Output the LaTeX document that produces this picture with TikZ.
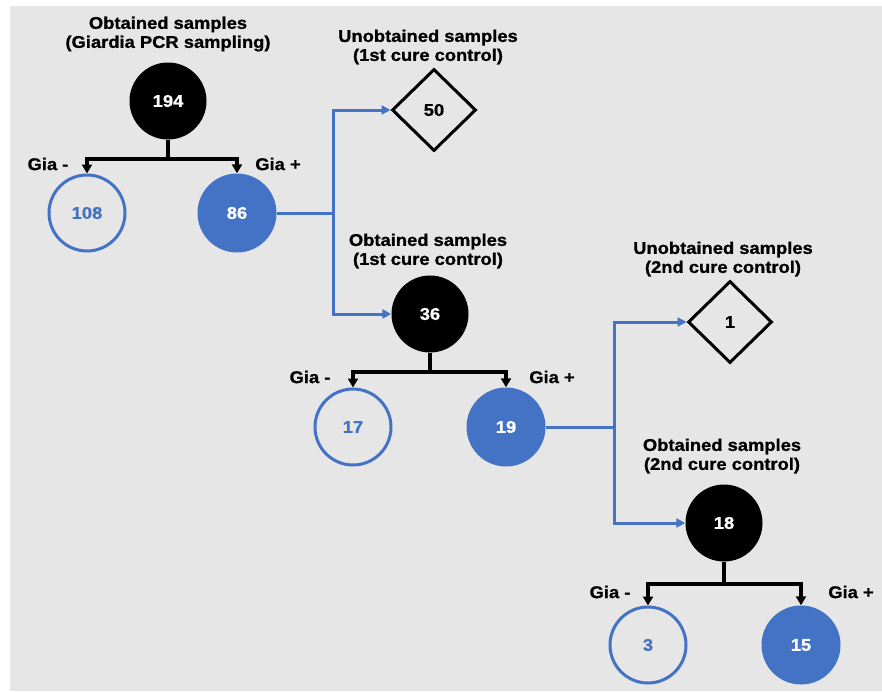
\documentclass[tikz,border=0pt]{standalone}
\usepackage{fontspec}
\newfontfamily\labfont{Liberation Sans}[FakeStretch=1.08,FakeBold=0.9]
\usetikzlibrary{arrows.meta,shapes.geometric}
\definecolor{bggray}{HTML}{E7E6E6}
\definecolor{giablue}{HTML}{4472C4}
\begin{document}
\begin{tikzpicture}[x=1pt,y=-1pt,
    every node/.style={font=\labfont\bfseries\fontsize{17}{19}\selectfont},
    tot/.style={circle,fill=black,text=white,minimum size=77pt,inner sep=0pt},
    gianeg/.style={circle,draw=giablue,line width=3pt,text=giablue,minimum size=76pt,inner sep=0pt},
    giapos/.style={circle,fill=giablue,text=white,minimum size=79pt,inner sep=0pt},
    lost/.style={diamond,draw=black,line width=3pt,minimum width=84pt,minimum height=82pt,inner sep=0pt},
    title/.style={align=center,inner sep=0pt},
    split/.style={line width=3.2pt,-{Triangle[length=9pt,width=10pt]}},
    flow/.style={draw=giablue,line width=3pt,-{Triangle[length=9pt,width=9pt]}}]
    \useasboundingbox (0,0) rectangle (882,691);
    \fill[bggray] (10,6) rectangle (882,691);
    % first sampling
    \node[title] (t194) at (168,34) {Obtained samples\\(Giardia PCR sampling)};
    \node[tot] (n194) at (168,101) {194};
    \node[gianeg] (n108) at (87,213) {108};
    \node[giapos] (n86) at (237,213) {86};
    \node (m1) at (48,164) {Gia -};
    \node (p1) at (278,164) {Gia +};
    \coordinate (j1) at (168,159);
    \draw[line width=3.2pt] (n194) -- (j1);
    \draw[split] (j1) -| (n108);
    \draw[split] (j1) -| (n86);
    % 1st cure control
    \node[title] (t50) at (428,47) {Unobtained samples\\(1st cure control)};
    \node[lost] (d50) at (434,110) {50};
    \node[title] (t36) at (428,251) {Obtained samples\\(1st cure control)};
    \node[tot] (n36) at (430,314) {36};
    \node[gianeg] (n17) at (353,427) {17};
    \node[giapos] (n19) at (506,427) {19};
    \node (m2) at (310,377) {Gia -};
    \node (p2) at (552,377) {Gia +};
    \coordinate (b1) at (333,213);
    \draw[draw=giablue,line width=3pt] (n86) -- (b1);
    \draw[flow] (b1) |- (d50);
    \draw[flow] (b1) |- (n36);
    \coordinate (j2) at (430,372);
    \draw[line width=3.2pt] (n36) -- (j2);
    \draw[split] (j2) -| (n17);
    \draw[split] (j2) -| (n19);
    % 2nd cure control
    \node[title] (t1) at (723,259) {Unobtained samples\\(2nd cure control)};
    \node[lost] (d1) at (730,322) {1};
    \node[title] (t18) at (722,456) {Obtained samples\\(2nd cure control)};
    \node[tot] (n18) at (724,523) {18};
    \node[gianeg] (n3) at (648,645) {3};
    \node[giapos] (n15) at (801,645) {15};
    \node (m3) at (610,592) {Gia -};
    \node (p3) at (851,592) {Gia +};
    \coordinate (b2) at (614,427);
    \draw[draw=giablue,line width=3pt] (n19) -- (b2);
    \draw[flow] (b2) |- (d1);
    \draw[flow] (b2) |- (n18);
    \coordinate (j3) at (724,584);
    \draw[line width=3.2pt] (n18) -- (j3);
    \draw[split] (j3) -| (n3);
    \draw[split] (j3) -| (n15);
\end{tikzpicture}
\end{document}
